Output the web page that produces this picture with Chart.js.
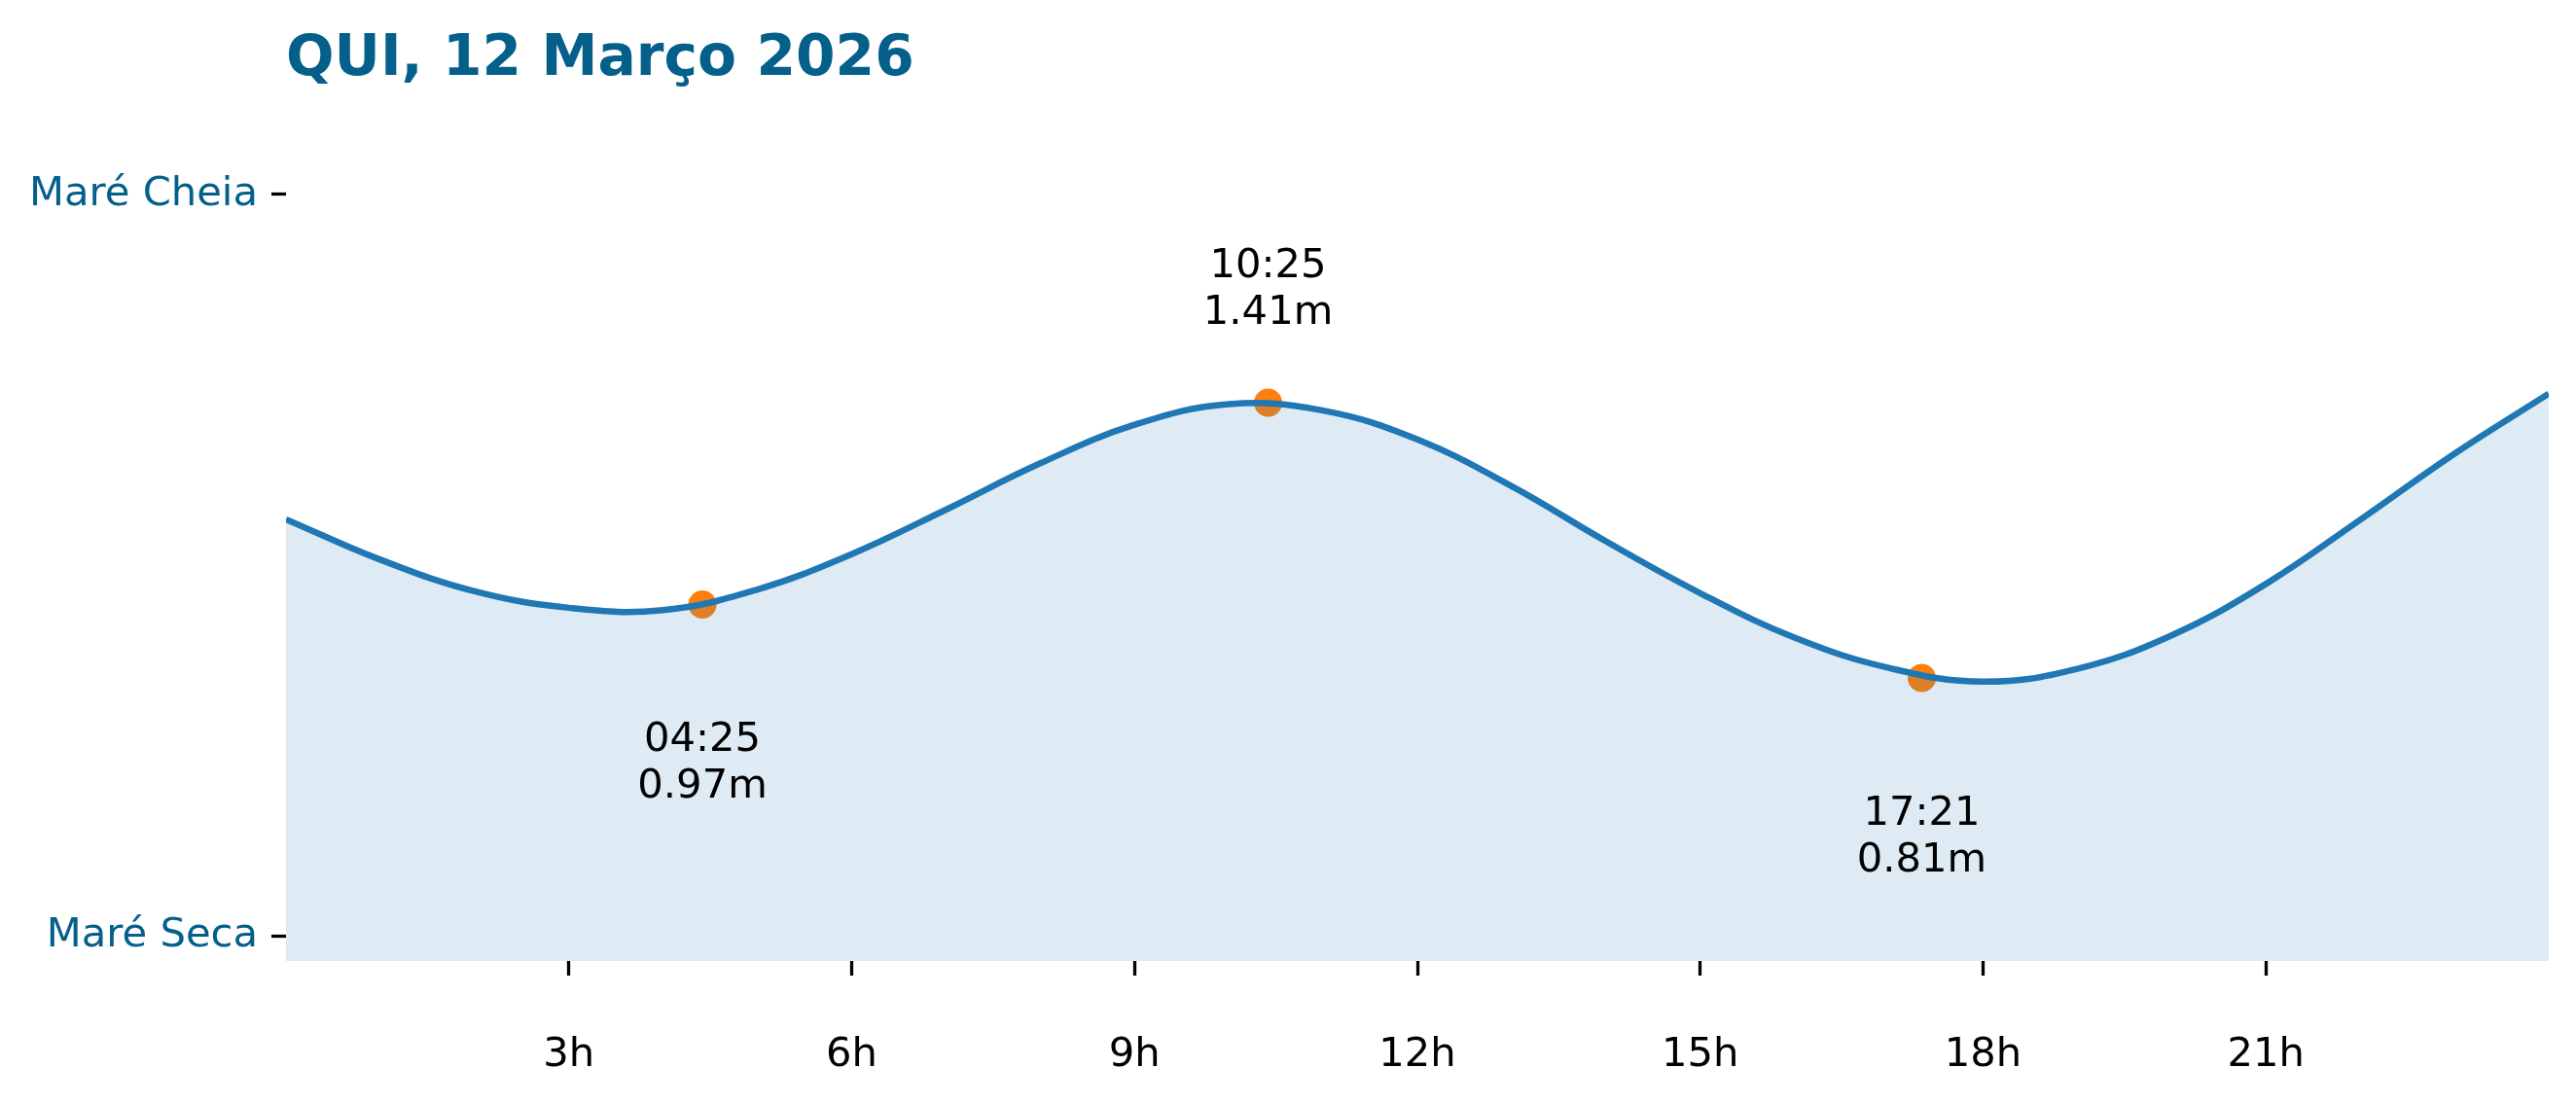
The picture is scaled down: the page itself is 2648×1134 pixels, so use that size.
<!DOCTYPE html>
<html>
<head>
<meta charset="utf-8">
<script src="https://cdn.jsdelivr.net/npm/chart.js@4.4.1/dist/chart.umd.min.js"></script>
<style>
  html, body { margin: 0; padding: 0; background: #ffffff; }
  canvas { display: block; }
</style>
</head>
<body>
<canvas id="tideChart" width="2648" height="1134" style="width:2648px;height:1134px"></canvas>
<script>
// curva da maré, uma leitura por hora (altura em metros)
const tideHours = [0, 1, 2, 3, 4, 5, 6, 7, 8, 9, 10, 11, 12, 13, 14, 15, 16, 17, 18, 19, 20, 21, 22, 23, 24];
const tideLevels = [1.156, 1.068, 0.999, 0.963, 0.958, 1.003, 1.080, 1.177, 1.278, 1.362, 1.407, 1.393, 1.330, 1.228, 1.108, 0.995, 0.898, 0.832, 0.802, 0.830, 0.903, 1.015, 1.155, 1.299, 1.430];

// preia-mar / baixa-mar do dia
const extremeHours = [4 + 25 / 60, 10 + 25 / 60, 17 + 21 / 60];
const extremeLevels = [0.97, 1.41, 0.81];
const extremeTimes = ["04:25", "10:25", "17:21"];
const extremeTypes = ["low", "high", "low"];

const xTicks = [3, 6, 9, 12, 15, 18, 21];
const yTickValues = [0.248, 1.864];
const yTickLabels = ["Maré Seca", "Maré Cheia"];

const titleText = "QUI, 12 Março 2026";

const BLUE = "#1f77b4";
const ORANGE = "#ff7f0e";
const TEAL = "#045f8b";
const FONT = "DejaVu Sans";

const overlayPlugin = {
  id: "overlay",
  afterDatasetsDraw(chart) {
    const ctx = chart.ctx;
    const x = chart.scales.x;
    const y = chart.scales.y;
    ctx.save();
    // título
    ctx.fillStyle = TEAL;
    ctx.font = `bold 58.3px "${FONT}"`;
    ctx.textAlign = "left";
    ctx.textBaseline = "alphabetic";
    ctx.fillText(titleText, chart.chartArea.left, 77);

    // anotações dos extremos
    ctx.fillStyle = "#000000";
    ctx.font = `41.7px "${FONT}"`;
    ctx.textAlign = "center";
    ctx.textBaseline = "middle";
    extremeHours.forEach((h, i) => {
      const px = x.getPixelForValue(h);
      const py = y.getPixelForValue(extremeLevels[i]);
      const lines = [extremeTimes[i], `${extremeLevels[i].toFixed(2)}m`];
      const first = extremeTypes[i] === "high" ? py - 140 : py + 140;
      ctx.fillText(lines[0], px, first);
      ctx.fillText(lines[1], px, first + 48);
    });
    ctx.restore();
  },
};

new Chart(document.getElementById("tideChart"), {
  type: "line",
  data: {
    datasets: [
      {
        data: tideHours.map((h, i) => ({ x: h, y: tideLevels[i] })),
        borderColor: BLUE,
        borderWidth: 6.5,
        backgroundColor: "rgba(31, 119, 180, 0.15)",
        fill: "start",
        pointRadius: 0,
        tension: 0.4,
      },
      {
        data: extremeHours.map((h, i) => ({ x: h, y: extremeLevels[i] })),
        showLine: false,
        pointRadius: 14.5,
        pointBorderWidth: 0,
        pointBackgroundColor: ORANGE,
        borderColor: ORANGE,
      },
    ],
  },
  options: {
    responsive: false,
    devicePixelRatio: 1,
    animation: false,
    layout: { padding: { top: 150, right: 28, left: 0, bottom: 0 } },
    plugins: {
      legend: { display: false },
      tooltip: { enabled: false },
    },
    scales: {
      x: {
        type: "linear",
        min: 0,
        max: 24,
        border: { display: false },
        grid: {
          drawOnChartArea: false,
          drawTicks: true,
          tickLength: 15,
          tickWidth: 3.3,
          tickColor: "#000000",
        },
        ticks: {
          autoSkip: false,
          maxRotation: 0,
          padding: 57,
          color: "#000000",
          font: { family: FONT, size: 41.7 },
          callback: (v) => `${v}h`,
        },
        afterBuildTicks: (scale) => {
          scale.ticks = xTicks.map((v) => ({ value: v }));
        },
        afterFit: (scale) => {
          scale.height = 146;
        },
      },
      y: {
        type: "linear",
        min: 0.193,
        max: 1.97,
        border: { display: false },
        grid: {
          drawOnChartArea: false,
          drawTicks: true,
          tickLength: 15,
          tickWidth: 3.3,
          tickColor: "#000000",
        },
        ticks: {
          autoSkip: false,
          padding: 14,
          color: TEAL,
          font: { family: FONT, size: 41.7 },
          callback: (v, idx) => yTickLabels[idx],
        },
        afterBuildTicks: (scale) => {
          scale.ticks = yTickValues.map((v) => ({ value: v }));
        },
        afterFit: (scale) => {
          scale.width = 294;
        },
      },
    },
  },
  plugins: [overlayPlugin],
});
</script>
</body>
</html>
